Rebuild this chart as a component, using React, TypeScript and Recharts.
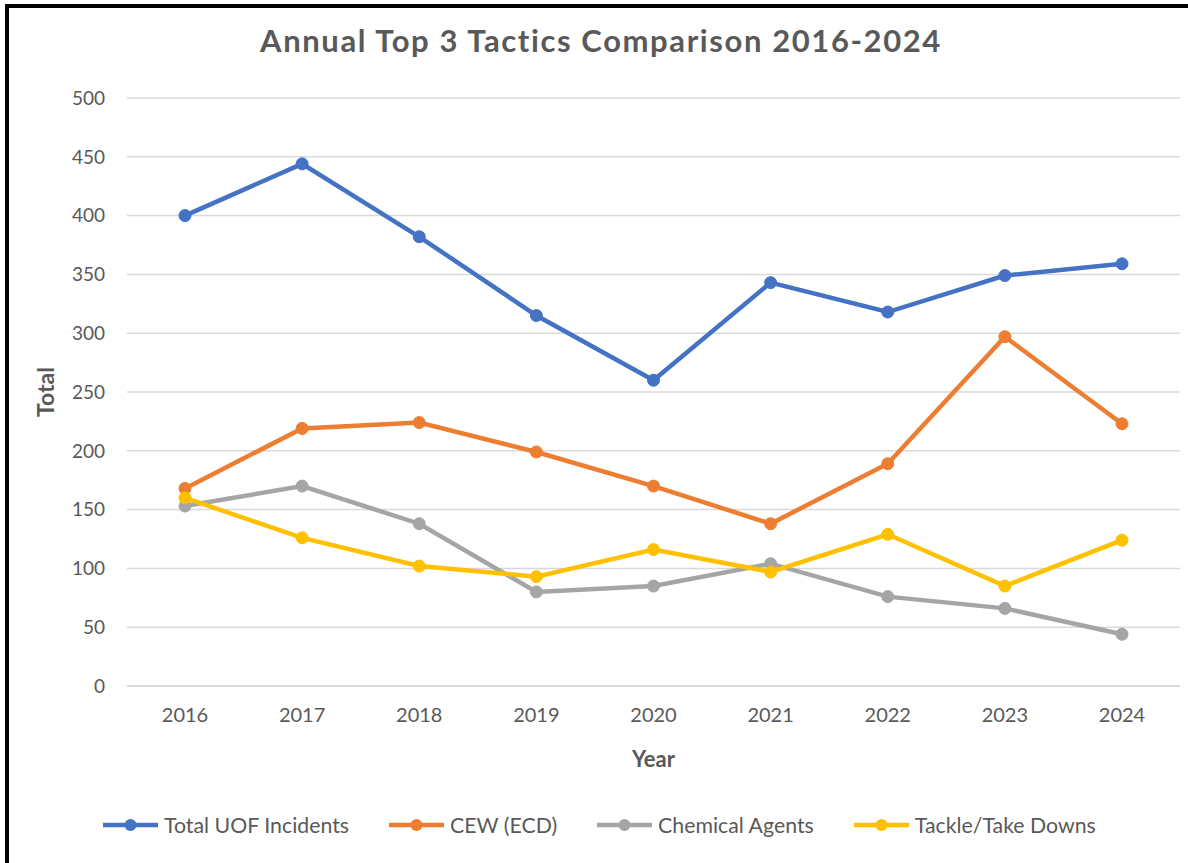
import { LineChart, Line, XAxis, YAxis, CartesianGrid } from "recharts";

const years = ["2016", "2017", "2018", "2019", "2020", "2021", "2022", "2023", "2024"];
const totalUof = [400, 444, 382, 315, 260, 343, 318, 349, 359];
const cew = [168, 219, 224, 199, 170, 138, 189, 297, 223];
const chemical = [153, 170, 138, 80, 85, 104, 76, 66, 44];
const tackle = [160, 126, 102, 93, 116, 97, 129, 85, 124];
const yTicks = [0, 50, 100, 150, 200, 250, 300, 350, 400, 450, 500];

const series = [
  { key: "total", name: "Total UOF Incidents", color: "#4472C4", values: totalUof },
  { key: "cew", name: "CEW (ECD)", color: "#ED7D31", values: cew },
  { key: "chem", name: "Chemical Agents", color: "#A5A5A5", values: chemical },
  { key: "tackle", name: "Tackle/Take Downs", color: "#FFC000", values: tackle },
];

const data = years.map((year, i) => {
  const row: Record<string, string | number> = { year };
  series.forEach((s) => {
    row[s.key] = s.values[i];
  });
  return row;
});

const FONT = "Lato, 'Open Sans', sans-serif";
const TEXT = "#595959";

export default function App() {
  return (
    <div
      style={{
        position: "absolute",
        left: 0,
        top: 0,
        width: 1188,
        height: 863,
        background: "#fff",
        fontFamily: FONT,
        overflow: "hidden",
      }}
    >
      {/* frame */}
      <div style={{ position: "absolute", left: 5, top: 4, width: 1183, height: 4, background: "#000" }} />
      <div style={{ position: "absolute", left: 5, top: 4, width: 4, height: 859, background: "#000" }} />

      <div
        style={{
          position: "absolute",
          top: 21,
          left: 0,
          width: 1202,
          textAlign: "center",
          fontSize: 31,
          letterSpacing: 1.6,
          fontWeight: 700,
          color: TEXT,
        }}
      >
        Annual Top 3 Tactics Comparison 2016-2024
      </div>

      <div style={{ position: "absolute", left: 0, top: 0 }}>
        <LineChart
          width={1188}
          height={863}
          data={data}
          margin={{ top: 98, right: 8, left: 0, bottom: 0 }}
        >
          <CartesianGrid vertical={false} stroke="#d9d9d9" strokeWidth={1.5} />
          <XAxis
            dataKey="year"
            height={177}
            padding={{ left: 58, right: 58 }}
            axisLine={{ stroke: "#d9d9d9", strokeWidth: 1.5 }}
            tickLine={false}
            tickMargin={16}
            tick={{ fill: TEXT, fontSize: 20, fontFamily: FONT }}
            label={{
              value: "Year",
              position: "insideTop",
              offset: 65,
              fill: TEXT,
              fontSize: 22,
              fontWeight: 700,
              fontFamily: FONT,
            }}
          />
          <YAxis
            width={127}
            domain={[0, 500]}
            ticks={yTicks}
            interval={0}
            axisLine={false}
            tickLine={false}
            tickMargin={16}
            tick={{ fill: TEXT, fontSize: 19, fontFamily: FONT }}
            label={{
              value: "Total",
              angle: -90,
              position: "center",
              dx: -18,
              fill: TEXT,
              fontSize: 23,
              fontWeight: 700,
              fontFamily: FONT,
            }}
          />
          {series.map((s) => (
            <Line
              key={s.key}
              type="linear"
              dataKey={s.key}
              name={s.name}
              stroke={s.color}
              strokeWidth={4.5}
              dot={{ r: 6, fill: s.color, stroke: s.color, strokeWidth: 1 }}
              activeDot={false}
              isAnimationActive={false}
            />
          ))}
        </LineChart>
      </div>

      <div
        style={{
          position: "absolute",
          top: 812,
          left: 103,
          display: "flex",
          alignItems: "center",
          gap: 40,
          fontSize: 21.3,
          color: TEXT,
        }}
      >
        {series.map((s) => (
          <div key={s.key} style={{ display: "flex", alignItems: "center" }}>
            <svg width={55} height={14} style={{ marginRight: 6 }}>
              <line x1={0} y1={7} x2={55} y2={7} stroke={s.color} strokeWidth={4.5} />
              <circle cx={27.5} cy={7} r={6} fill={s.color} />
            </svg>
            <span>{s.name}</span>
          </div>
        ))}
      </div>
    </div>
  );
}
